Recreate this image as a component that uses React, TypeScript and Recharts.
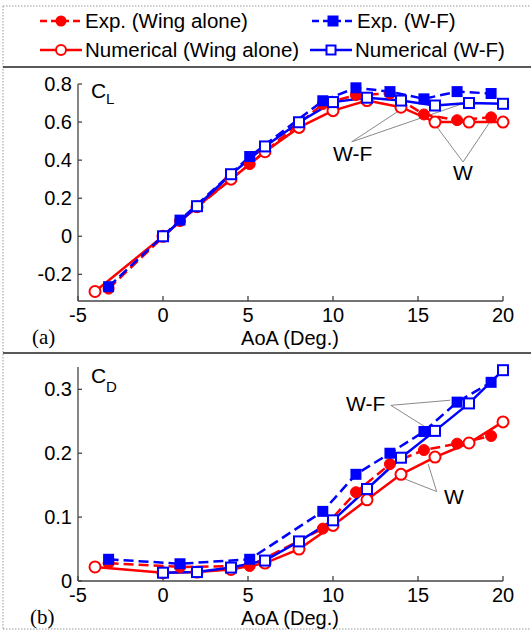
import { LineChart, Line, XAxis, YAxis, ReferenceLine } from "recharts";

const RED = "#ff0000";
const BLUE = "#0000ff";
const FONT = "'Liberation Sans', Arial, sans-serif";

// AoA (deg) for each data set
const EXP_AOA = [-3.2, 1.0, 5.1, 9.4, 11.35, 13.35, 15.35, 17.3, 19.3];
const NUM_AOA_WING = [-4, 0, 2, 4, 6, 8, 10, 12, 14, 16, 18, 20];
const NUM_AOA_WF = [0, 2, 4, 6, 8, 10, 12, 14, 16, 18, 20];

// lift coefficient
const CL_EXP_WING = [-0.275, 0.08, 0.379, 0.695, 0.742, 0.75, 0.64, 0.61, 0.625];
const CL_EXP_WF = [-0.265, 0.085, 0.419, 0.712, 0.78, 0.76, 0.722, 0.76, 0.75];
const CL_NUM_WING = [-0.29, 0, 0.155, 0.3, 0.444, 0.572, 0.66, 0.713, 0.678, 0.6, 0.6, 0.6];
const CL_NUM_WF = [0, 0.158, 0.326, 0.472, 0.599, 0.705, 0.728, 0.713, 0.687, 0.7, 0.696];

// drag coefficient
const CD_EXP_WING = [0.028, 0.022, 0.0235, 0.082, 0.139, 0.183, 0.205, 0.215, 0.227];
const CD_EXP_WF = [0.034, 0.027, 0.034, 0.109, 0.167, 0.2, 0.234, 0.28, 0.311];
const CD_NUM_WING = [0.022, 0.013, 0.014, 0.018, 0.028, 0.05, 0.087, 0.127, 0.167, 0.194, 0.216, 0.249];
const CD_NUM_WF = [0.013, 0.014, 0.021, 0.032, 0.062, 0.095, 0.144, 0.193, 0.235, 0.278, 0.33];

const X_TICKS = [-5, 0, 5, 10, 15, 20];
const CL_TICKS = [-0.2, 0, 0.2, 0.4, 0.6, 0.8];
const CD_TICKS = [0, 0.1, 0.2, 0.3];

const pts = (xs: number[], ys: number[]) => xs.map((x, i) => ({ aoa: x, v: ys[i] }));

const fmt = (v: number) => (v === 0 ? "0" : v.toFixed(1));

const filledCircle = (color: string) => (p: any) => (
  <circle key={`fc${p.index}`} cx={p.cx} cy={p.cy} r={5.5} fill={color} stroke={color} strokeWidth={1} />
);
const openCircle = (color: string) => (p: any) => (
  <circle key={`oc${p.index}`} cx={p.cx} cy={p.cy} r={5.5} fill="#fff" stroke={color} strokeWidth={2} />
);
const filledSquare = (color: string) => (p: any) => (
  <rect key={`fs${p.index}`} x={p.cx - 5.5} y={p.cy - 5.5} width={11} height={11} fill={color} />
);
const openSquare = (color: string) => (p: any) => (
  <rect key={`os${p.index}`} x={p.cx - 5} y={p.cy - 5} width={10} height={10} fill="#fff" stroke={color} strokeWidth={2} />
);

const tickStyle = { fill: "#000", fontSize: 20, fontFamily: FONT };
const axisColor = "#444";

type Ann = { x: number; y: number }[];

function Panel(props: {
  top: number;
  height: number;
  margin: { top: number; bottom: number };
  domain: [number, number];
  ticks: number[];
  expWing: number[];
  expWF: number[];
  numWing: number[];
  numWF: number[];
  annotations: Ann[];
}) {
  const { top, height, margin, domain, ticks, expWing, expWF, numWing, numWF, annotations } = props;
  return (
    <div style={{ position: "absolute", left: 0, top }}>
      <LineChart width={531} height={height} margin={{ top: margin.top, bottom: margin.bottom, left: 0, right: 28 }}>
        <XAxis
          dataKey="aoa"
          type="number"
          domain={[-5, 20]}
          ticks={X_TICKS}
          height={30}
          tick={tickStyle}
          tickSize={-5}
          tickMargin={12}
          stroke={axisColor}
          strokeWidth={1.3}
        />
        <YAxis
          type="number"
          domain={domain}
          ticks={ticks}
          width={78}
          tick={tickStyle}
          tickSize={-4}
          tickMargin={10}
          tickFormatter={fmt}
          stroke={axisColor}
          strokeWidth={1.3}
        />
        {annotations.map((seg, i) => (
          <ReferenceLine key={i} segment={seg} stroke="#8a8a8a" strokeWidth={1} ifOverflow="visible" />
        ))}
        <Line
          data={pts(EXP_AOA, expWing)}
          dataKey="v"
          stroke={RED}
          strokeWidth={2.5}
          strokeDasharray="10 5"
          dot={filledCircle(RED)}
          isAnimationActive={false}
        />
        <Line
          data={pts(NUM_AOA_WING, numWing)}
          dataKey="v"
          stroke={RED}
          strokeWidth={2.5}
          dot={openCircle(RED)}
          isAnimationActive={false}
        />
        <Line
          data={pts(EXP_AOA, expWF)}
          dataKey="v"
          stroke={BLUE}
          strokeWidth={2.5}
          strokeDasharray="10 5"
          dot={filledSquare(BLUE)}
          isAnimationActive={false}
        />
        <Line
          data={pts(NUM_AOA_WF, numWF)}
          dataKey="v"
          stroke={BLUE}
          strokeWidth={2.5}
          dot={openSquare(BLUE)}
          isAnimationActive={false}
        />
      </LineChart>
    </div>
  );
}

// leader lines from the W-F / W labels, in data units
const CL_ANN: Ann[] = [
  [{ x: 11.1, y: 0.496 }, { x: 14.4, y: 0.69 }],
  [{ x: 11.1, y: 0.496 }, { x: 17.9, y: 0.705 }],
  [{ x: 17.65, y: 0.39 }, { x: 15.9, y: 0.6 }],
  [{ x: 17.65, y: 0.39 }, { x: 19.3, y: 0.61 }],
];
const CD_ANN: Ann[] = [
  [{ x: 13.4, y: 0.275 }, { x: 16.9, y: 0.283 }],
  [{ x: 13.4, y: 0.275 }, { x: 15.5, y: 0.24 }],
  [{ x: 16.1, y: 0.14 }, { x: 15.6, y: 0.183 }],
  [{ x: 16.1, y: 0.14 }, { x: 14.0, y: 0.162 }],
];

function LegendItem(props: { x: number; y: number; color: string; dashed: boolean; marker: string; label: string }) {
  const { x, y, color, dashed, marker, label } = props;
  const mx = x + 21;
  return (
    <g>
      <line x1={x} x2={x + 42} y1={y} y2={y} stroke={color} strokeWidth={2.5} strokeDasharray={dashed ? "7 4" : undefined} />
      {marker === "fc" && <circle cx={mx} cy={y} r={5.5} fill={color} />}
      {marker === "oc" && <circle cx={mx} cy={y} r={5} fill="#fff" stroke={color} strokeWidth={2} />}
      {marker === "fs" && <rect x={mx - 5.5} y={y - 5.5} width={11} height={11} fill={color} />}
      {marker === "os" && <rect x={mx - 4.5} y={y - 4.5} width={9} height={9} fill="#fff" stroke={color} strokeWidth={2} />}
      <text x={x + 45} y={y + 7} fontSize={20.5} fontFamily={FONT} fill="#000">
        {label}
      </text>
    </g>
  );
}

export default function App() {
  return (
    <div style={{ position: "absolute", left: 0, top: 0, width: 531, height: 631, background: "#fff", overflow: "hidden" }}>
      <Panel
        top={67}
        height={286}
        margin={{ top: 17, bottom: 22 }}
        domain={[-0.34, 0.8]}
        ticks={CL_TICKS}
        expWing={CL_EXP_WING}
        expWF={CL_EXP_WF}
        numWing={CL_NUM_WING}
        numWF={CL_NUM_WF}
        annotations={CL_ANN}
      />
      <Panel
        top={353}
        height={278}
        margin={{ top: 14, bottom: 20 }}
        domain={[0, 0.335]}
        ticks={CD_TICKS}
        expWing={CD_EXP_WING}
        expWF={CD_EXP_WF}
        numWing={CD_NUM_WING}
        numWF={CD_NUM_WF}
        annotations={CD_ANN}
      />
      <svg width={531} height={631} style={{ position: "absolute", left: 0, top: 0, pointerEvents: "none" }}>
        {/* frame */}
        <line x1={3} x2={531} y1={6} y2={6} stroke="#999" strokeWidth={1} strokeDasharray="1.5 1.5" />
        <line x1={3} x2={3} y1={6} y2={629} stroke="#999" strokeWidth={1} strokeDasharray="1.5 1.5" />
        <line x1={3} x2={531} y1={629} y2={629} stroke="#999" strokeWidth={1} strokeDasharray="1.5 1.5" />
        <line x1={3} x2={531} y1={67} y2={67} stroke="#222" strokeWidth={1.5} />
        <line x1={3} x2={531} y1={353} y2={353} stroke="#222" strokeWidth={1.5} />

        {/* legend */}
        <LegendItem x={40} y={21} color={RED} dashed marker="fc" label="Exp. (Wing alone)" />
        <LegendItem x={312} y={21} color={BLUE} dashed marker="fs" label="Exp. (W-F)" />
        <LegendItem x={40} y={50} color={RED} dashed={false} marker="oc" label="Numerical (Wing alone)" />
        <LegendItem x={310} y={50} color={BLUE} dashed={false} marker="os" label="Numerical (W-F)" />

        <g fontFamily={FONT} fill="#000">
          <text x={91} y={98} fontSize={21}>C</text>
          <text x={106} y={104} fontSize={15}>L</text>
          <text x={91} y={383} fontSize={21}>C</text>
          <text x={106} y={392} fontSize={15}>D</text>

          <text x={333} y={161} fontSize={21}>W-F</text>
          <text x={453} y={180} fontSize={21}>W</text>
          <text x={346} y={411} fontSize={21}>W-F</text>
          <text x={444} y={504} fontSize={21}>W</text>

          <text x={290} y={345} fontSize={20} textAnchor="middle">AoA (Deg.)</text>
          <text x={290} y={625} fontSize={20} textAnchor="middle">AoA (Deg.)</text>
        </g>
        <text x={32} y={344} fontSize={21} fontFamily="'Liberation Serif', 'Times New Roman', serif">(a)</text>
        <text x={30} y={624} fontSize={21} fontFamily="'Liberation Serif', 'Times New Roman', serif">(b)</text>
      </svg>
    </div>
  );
}
